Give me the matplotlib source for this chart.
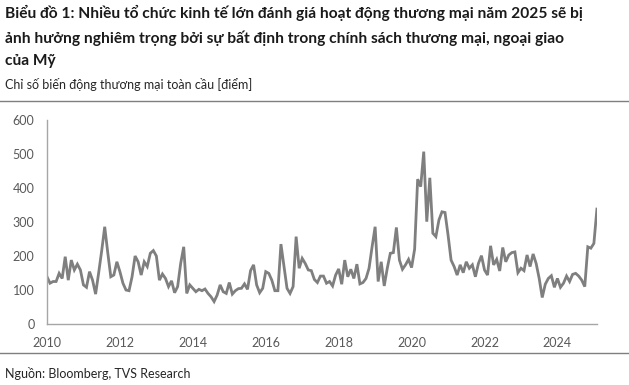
import numpy as np
import matplotlib
matplotlib.use("Agg")
import matplotlib.pyplot as plt
from matplotlib.lines import Line2D

plt.rcParams["font.family"] = ["Lato", "DejaVu Sans"]

# monthly index values, Jan 2010 - Feb 2025
values = [
    139, 120, 125, 125, 149, 134, 198, 129, 188, 159, 176, 159,   # 2010
    115, 108, 154, 129, 88, 150, 215, 286, 210, 139, 144, 183,    # 2011
    154, 120, 100, 98, 139, 200, 183, 144, 183, 169, 208, 216,    # 2012
    200, 129, 147, 134, 110, 127, 92, 110, 178, 227, 90, 115,     # 2013
    105, 95, 102, 98, 103, 90, 80, 66, 85, 115, 95, 90,           # 2014
    122, 88, 98, 104, 105, 118, 102, 157, 174, 115, 92, 105,      # 2015
    154, 149, 129, 98, 98, 235, 169, 105, 90, 110, 257, 164,      # 2016
    193, 178, 159, 157, 131, 122, 141, 141, 120, 125, 112, 144,   # 2017
    162, 117, 188, 139, 161, 134, 176, 118, 122, 134, 164, 227,   # 2018
    286, 125, 183, 112, 164, 208, 210, 284, 188, 161, 174, 190,   # 2019
    166, 220, 426, 404, 507, 301, 430, 267, 257, 306, 330, 328,   # 2020
    262, 188, 169, 144, 174, 151, 183, 164, 174, 139, 178, 201,   # 2021
    159, 144, 230, 174, 190, 156, 225, 183, 203, 210, 212, 151,   # 2022
    164, 157, 203, 169, 206, 178, 134, 78, 117, 134, 142, 108,    # 2023
    134, 108, 120, 141, 125, 146, 149, 141, 129, 110, 227, 223,   # 2024
    237, 338,                                                     # 2025
]
years = [2010, 2012, 2014, 2016, 2018, 2020, 2022, 2024]
yticks = [0, 100, 200, 300, 400, 500, 600]

title = ("Biểu đồ 1: Nhiều tổ chức kinh tế lớn đánh giá hoạt động thương mại năm 2025 sẽ bị\n"
         "ảnh hưởng nghiêm trọng bởi sự bất định trong chính sách thương mại, ngoại giao\n"
         "của Mỹ")
subtitle = "Chỉ số biến động thương mại toàn cầu [điểm]"
source = "Nguồn: Bloomberg, TVS Research"

gray = "#7f7f7f"
tick_col = "#595959"

fig = plt.figure(figsize=(6.29, 3.85), dpi=100)
ax = fig.add_axes([0.0747, 0.1584, 0.8743, 0.5299])

x = np.arange(len(values))
ax.plot(x, values, color=gray, linewidth=2.0, solid_joinstyle="miter")

ax.set_xlim(0, len(values) - 1)
ax.set_ylim(0, 600)
ax.set_xticks([(y - 2010) * 12 for y in years])
ax.set_xticklabels([str(y) for y in years])
ax.set_yticks(yticks)
ax.tick_params(length=0, labelsize=9, colors=tick_col, pad=9)
for s in ["top", "right"]:
    ax.spines[s].set_visible(False)
for s in ["left", "bottom"]:
    ax.spines[s].set_color("#a6a6a6")
    ax.spines[s].set_linewidth(1.0)

fig.text(0.008, 0.987, title, fontsize=11.2, fontweight="bold", color="#1a1a1a",
         va="top", ha="left", linespacing=1.72)
fig.text(0.008, 0.797, subtitle, fontsize=9, color="#262626", va="top", ha="left")
fig.text(0.008, 0.029, source, fontsize=9, color="#262626", va="center", ha="left")

fig.add_artist(Line2D([0, 1], [0.737, 0.737], transform=fig.transFigure,
                      color=gray, linewidth=1.0))
fig.add_artist(Line2D([0, 1], [0.083, 0.083], transform=fig.transFigure,
                      color=gray, linewidth=1.0))

fig.savefig("out.png", dpi=100)
